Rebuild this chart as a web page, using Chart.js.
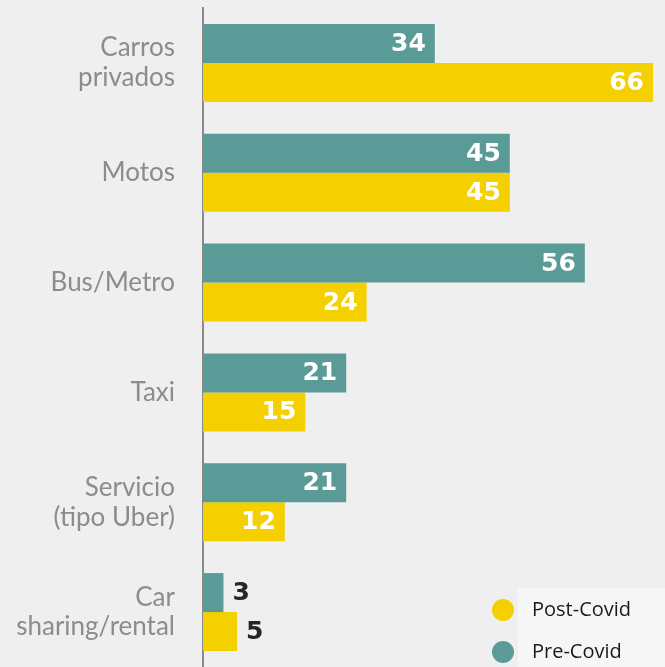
<!DOCTYPE html>
<html>
<head>
<meta charset="utf-8">
<script src="https://cdn.jsdelivr.net/npm/chart.js@4/dist/chart.umd.min.js"></script>
<style>
  html, body { margin: 0; padding: 0; background: #efefef; }
  #wrap { width: 665px; height: 667px; position: relative; }
</style>
</head>
<body>
<div id="wrap"><canvas id="myChart"></canvas></div>
<script>
const categories = [
    ['Carros', 'privados'],
    'Motos',
    'Bus/Metro',
    'Taxi',
    ['Servicio', '(tipo Uber)'],
    ['Car', 'sharing/rental'],
];
const preCovid = [34, 45, 56, 21, 21, 3];
const postCovid = [66, 45, 24, 15, 12, 5];

const TEAL = '#5a9b97';
const YELLOW = '#f4d000';

// numbers at the end of each bar: white inside, dark outside when the bar is short
const valueLabels = {
    id: 'valueLabels',
    afterDatasetsDraw(chart) {
        const { ctx } = chart;
        ctx.save();
        ctx.font = 'bold 25px "DejaVu Sans"';
        ctx.textBaseline = 'middle';
        chart.data.datasets.forEach((ds, i) => {
            chart.getDatasetMeta(i).data.forEach((bar, j) => {
                const v = ds.data[j];
                const w = bar.x - bar.base;
                if (w > 50) {
                    ctx.fillStyle = '#ffffff';
                    ctx.textAlign = 'right';
                    ctx.fillText(v, bar.x - 9, bar.y + 1);
                } else {
                    ctx.fillStyle = '#262626';
                    ctx.textAlign = 'left';
                    ctx.fillText(v, bar.x + 9, bar.y + 1);
                }
            });
        });
        ctx.restore();
    }
};

// legend box in the lower right corner
const cornerLegend = {
    id: 'cornerLegend',
    afterDraw(chart) {
        const { ctx } = chart;
        const items = [chart.data.datasets[1], chart.data.datasets[0]];
        ctx.save();
        ctx.fillStyle = '#f6f6f6';
        ctx.fillRect(518, 588, 147, 79);
        ctx.font = '20px "Open Sans"';
        ctx.textBaseline = 'middle';
        ctx.textAlign = 'left';
        items.forEach((ds, k) => {
            const y = 610 + k * 42;
            ctx.fillStyle = ds.backgroundColor;
            ctx.beginPath();
            ctx.arc(503, y, 11, 0, Math.PI * 2);
            ctx.fill();
            ctx.fillStyle = '#1a1a1a';
            ctx.fillText(ds.label, 532, y);
        });
        ctx.restore();
    }
};

const ctx = document.getElementById('myChart');
const myChart = new Chart(ctx, {
    type: 'bar',
    data: {
        labels: categories,
        datasets: [
            {
                label: 'Pre-Covid',
                data: preCovid,
                backgroundColor: TEAL,
            },
            {
                label: 'Post-Covid',
                data: postCovid,
                backgroundColor: YELLOW,
            },
        ],
    },
    options: {
        indexAxis: 'y',
        responsive: true,
        maintainAspectRatio: false,
        animation: false,
        layout: {
            padding: { top: 8, right: 12, bottom: 0, left: 0 },
        },
        datasets: {
            bar: {
                barPercentage: 1,
                categoryPercentage: 0.71,
            },
        },
        plugins: {
            legend: { display: false },
            title: { display: false },
            tooltip: { enabled: false },
        },
        scales: {
            x: {
                min: 0,
                max: 66,
                display: false,
                grid: { display: false },
            },
            y: {
                afterFit(scale) {
                    scale.width = 203;
                    scale.paddingTop = 0;
                    scale.paddingBottom = 0;
                },
                grid: { display: false, drawTicks: false },
                border: { display: true, color: '#8a8a8a', width: 2 },
                ticks: {
                    padding: 28,
                    color: '#8c8c8c',
                    font: { family: 'Lato', size: 26, lineHeight: 1.15 },
                },
            },
        },
    },
    plugins: [valueLabels, cornerLegend],
});
</script>
</body>
</html>
